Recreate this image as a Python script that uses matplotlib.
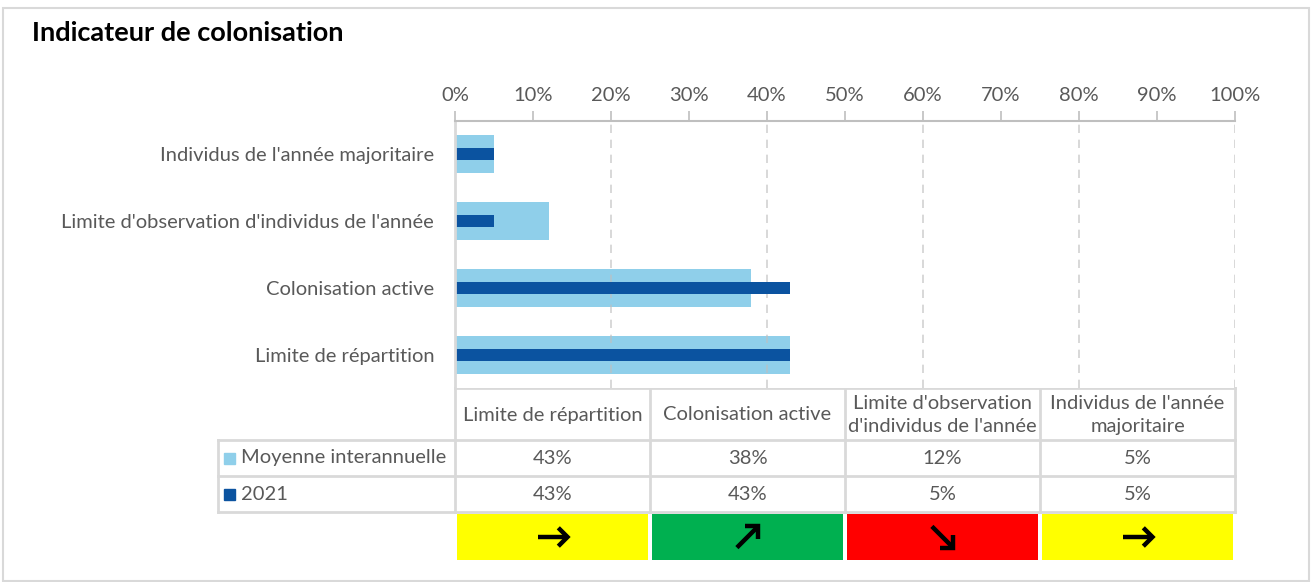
import numpy as np
import matplotlib
matplotlib.use("Agg")
import matplotlib.pyplot as plt
from matplotlib.patches import Rectangle

plt.rcParams['font.family'] = ['Lato', 'DejaVu Sans']

# données
categories = ["Limite de répartition", "Colonisation active",
              "Limite d'observation d'individus de l'année",
              "Individus de l'année majoritaire"]
table_headers = ["Limite de répartition", "Colonisation active",
                 "Limite d'observation\nd'individus de l'année",
                 "Individus de l'année\nmajoritaire"]
moyenne = [43, 38, 12, 5]
annee_2021 = [43, 43, 5, 5]
series_names = ["Moyenne interannuelle", "2021"]
tendances = ["stable", "hausse", "baisse", "stable"]
couleurs_tendance = {"stable": "#FFFF00", "hausse": "#00B050", "baisse": "#FF0000"}
angles_tendance = {"stable": 0, "hausse": 45, "baisse": -45}
x_ticks = list(range(0, 101, 10))

W, H = 1311, 582
light = "#8FCFEA"
dark = "#0B53A0"
grey_txt = "#595959"
line_c = "#D9D9D9"
fs = 14.5

fig = plt.figure(figsize=(W / 100, H / 100), dpi=100)

# calque en pixels pour cadre, titre et tableau
bg = fig.add_axes([0, 0, 1, 1])
bg.set_xlim(0, W)
bg.set_ylim(H, 0)
bg.axis("off")
bg.add_patch(Rectangle((3, 8), W - 5, H - 9, fill=False, ec=line_c, lw=1.5))
bg.text(32, 33, "Indicateur de colonisation", fontsize=19.5, fontweight="bold",
        va="center", ha="left", color="black")

# graphique principal
x0, x1 = 455, 1235
y0, y1 = 121, 388
ax = fig.add_axes([x0 / W, 1 - y1 / H, (x1 - x0) / W, (y1 - y0) / H])
ypos = np.arange(len(categories))
ax.barh(ypos, moyenne, height=0.57, color=light, zorder=1)
for g in range(20, 101, 20):
    ax.axvline(g, color="#BFBFBF", lw=1.2, ls=(0, (5, 4)), alpha=0.7, zorder=1.5)
ax.barh(ypos, annee_2021, height=0.18, color=dark, zorder=2)
ax.set_xlim(0, 100)
ax.set_ylim(-0.5, len(categories) - 0.5)
ax.xaxis.tick_top()
ax.set_xticks(x_ticks)
ax.set_xticklabels([f"{t}%" for t in x_ticks])
ax.set_yticks(ypos)
ax.set_yticklabels(categories)
ax.tick_params(axis="x", colors="#BFBFBF", labelcolor=grey_txt, labelsize=fs,
               length=7, width=1.2, pad=5)
ax.tick_params(axis="y", length=0, labelcolor=grey_txt, labelsize=fs, pad=15)
for s in ["right", "bottom"]:
    ax.spines[s].set_visible(False)
ax.spines["top"].set_color("#BFBFBF")
ax.spines["top"].set_linewidth(1.5)
ax.spines["left"].set_color(line_c)
ax.spines["left"].set_linewidth(2)

# tableau de données
col_w = (x1 - x0) / len(categories)
cols = [x0 + i * col_w for i in range(len(categories) + 1)]
leg_x = 218
rows = [388, 440, 476, 512]
lw = 2
for c in cols:
    bg.plot([c, c], [rows[0], rows[-1]], color=line_c, lw=lw)
bg.plot([leg_x, leg_x], [rows[1], rows[-1]], color=line_c, lw=lw)
bg.plot([x0, x1], [rows[0], rows[0]], color=line_c, lw=lw)
for r in rows[1:]:
    bg.plot([leg_x, x1], [r, r], color=line_c, lw=lw)

for i, h in enumerate(table_headers):
    cx = cols[i] + col_w / 2
    bg.text(cx, (rows[0] + rows[1]) / 2 + 1, h, ha="center", va="center",
            fontsize=fs, color=grey_txt, linespacing=1.4)
    bg.text(cx, (rows[1] + rows[2]) / 2, f"{moyenne[i]}%", ha="center",
            va="center", fontsize=fs, color=grey_txt)
    bg.text(cx, (rows[2] + rows[3]) / 2, f"{annee_2021[i]}%", ha="center",
            va="center", fontsize=fs, color=grey_txt)

for j, (name, col) in enumerate(zip(series_names, [light, dark])):
    cy = (rows[j + 1] + rows[j + 2]) / 2
    bg.add_patch(Rectangle((224, cy - 5.5), 11, 11, color=col))
    bg.text(241, cy, name, ha="left", va="center", fontsize=fs, color=grey_txt)

# indicateurs de tendance (flèches tracées à la main)
by0, by1 = 514, 560
L, arm = 15, 13
for i, t in enumerate(tendances):
    bg.add_patch(Rectangle((cols[i] + 2, by0), col_w - 4, by1 - by0,
                           color=couleurs_tendance[t], lw=0))
    cx = cols[i] + col_w / 2
    cy = (by0 + by1) / 2
    a = np.deg2rad(angles_tendance[t])
    ux, uy = np.cos(a), -np.sin(a)  # axe y inversé
    tip = (cx + ux * L, cy + uy * L)
    tail = (cx - ux * L, cy - uy * L)
    bg.plot([tail[0], tip[0]], [tail[1], tip[1]], color="black", lw=3.2,
            solid_capstyle="butt")
    hx, hy = [], []
    for da in (np.deg2rad(135), np.deg2rad(-135)):
        vx = ux * np.cos(da) - uy * np.sin(da)
        vy = ux * np.sin(da) + uy * np.cos(da)
        hx.append(tip[0] + vx * arm)
        hy.append(tip[1] + vy * arm)
    bg.plot([hx[0], tip[0], hx[1]], [hy[0], tip[1], hy[1]], color="black",
            lw=3.2, solid_joinstyle="miter", solid_capstyle="butt")

fig.savefig("out.png", dpi=100, facecolor="white")
